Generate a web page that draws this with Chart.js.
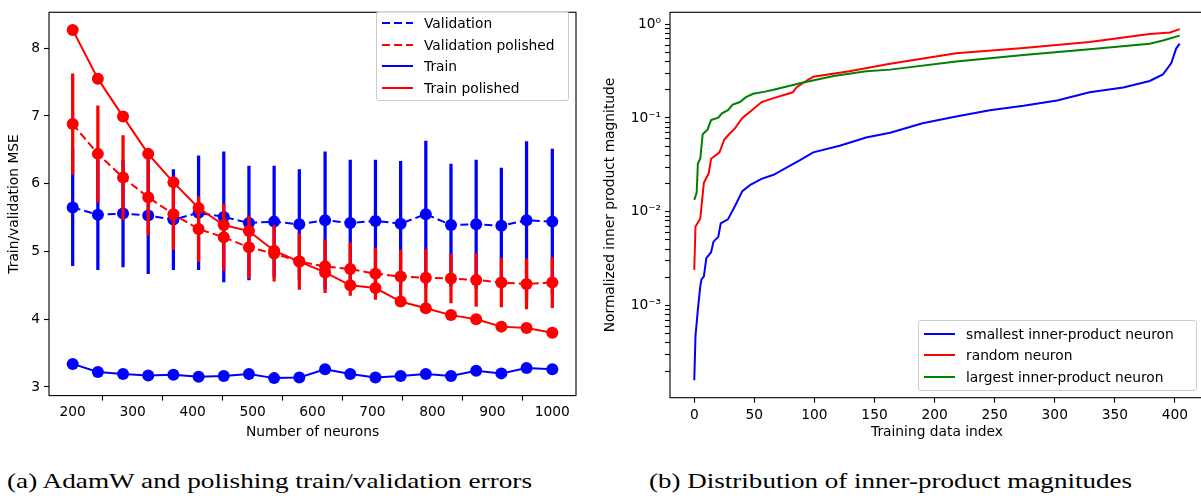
<!DOCTYPE html>
<html><head><meta charset="utf-8">
<script src="https://cdn.jsdelivr.net/npm/chart.js@4.4.0/dist/chart.umd.min.js"></script>
<style>
body{margin:0;width:1201px;height:499px;overflow:hidden;background:#fff;position:relative;font-family:'DejaVu Sans';}
canvas{position:absolute;top:0;}
.legend{position:absolute;background:rgba(255,255,255,0.85);border:1px solid #cccccc;border-radius:3px;box-sizing:border-box;font-size:13.8px;color:#000;z-index:5;}
.legend .txt{position:absolute;white-space:nowrap;line-height:16px;}
.legend svg{position:absolute;overflow:visible;}
.cap{position:absolute;font-family:'Liberation Serif',serif;font-size:22px;line-height:1;white-space:nowrap;color:#000;transform-origin:0 0;display:inline-block;}
</style></head>
<body>
<canvas id="c1" width="595" height="441" style="left:0"></canvas>
<canvas id="c2" width="612" height="441" style="left:595px"></canvas>
<div id="leg1" class="legend" style="left:376px;top:11px;width:193px;height:90px"></div>
<div id="leg2" class="legend" style="left:918px;top:320px;width:279px;height:71px"></div>
<span id="capA" class="cap" style="left:7px;top:470px">(a) AdamW and polishing train/validation errors</span>
<span id="capB" class="cap" style="left:649px;top:470px">(b) Distribution of inner-product magnitudes</span>
<script>
// ---------- Data: left panel ----------
const neurons = [200,242,284,326,368,410,452,494,536,578,621,663,705,747,789,831,873,915,957,1000];
const valMSE = [5.65,5.54,5.56,5.53,5.47,5.57,5.51,5.42,5.44,5.40,5.46,5.42,5.45,5.41,5.55,5.39,5.40,5.38,5.46,5.44];
const valErr = [0.86,0.81,0.79,0.86,0.74,0.84,0.96,0.84,0.82,0.81,1.01,0.93,0.90,0.92,1.08,0.90,0.95,0.85,1.16,1.07];
const valPolMSE = [6.88,6.44,6.09,5.80,5.55,5.33,5.21,5.06,4.97,4.85,4.78,4.74,4.67,4.63,4.61,4.60,4.58,4.54,4.52,4.54];
const valPolErr = [0.74,0.71,0.62,0.56,0.52,0.48,0.49,0.46,0.41,0.41,0.39,0.39,0.38,0.39,0.42,0.36,0.39,0.36,0.37,0.37];
const trainMSE = [3.34,3.22,3.19,3.17,3.18,3.15,3.16,3.19,3.13,3.14,3.26,3.19,3.14,3.16,3.19,3.16,3.24,3.20,3.28,3.26];
const trainPolMSE = [8.27,7.55,6.99,6.44,6.02,5.64,5.39,5.30,5.01,4.85,4.69,4.50,4.46,4.26,4.16,4.06,4.00,3.89,3.87,3.80];
const leftXTicks = [200,300,400,500,600,700,800,900,1000];
const leftYTicks = [3,4,5,6,7,8];

// ---------- Data: right panel ----------
const smallestIdx = [0,1,3,5,6,8,10,14,16,20,22,28,34,40,47,56,66,88,99,121,143,163,190,218,246,274,302,329,357,379,390,397,401,404];
const smallestVal = [1.6e-4,4.7e-4,9.1e-4,1.6e-3,1.9e-3,2.05e-3,3.2e-3,3.7e-3,4.8e-3,5.4e-3,7.5e-3,8.3e-3,1.16e-2,1.66e-2,1.95e-2,2.24e-2,2.48e-2,3.55e-2,4.3e-2,5.06e-2,6.2e-2,6.96e-2,8.8e-2,0.104,0.121,0.135,0.154,0.188,0.212,0.248,0.291,0.385,0.55,0.62];
const randomIdx = [0,1,5,8,12,14,21,25,28,34,40,48,56,66,82,85,93,99,129,163,184,218,274,329,379,396,404];
const randomVal = [2.4e-3,6.9e-3,8.5e-3,2.04e-2,2.57e-2,3.68e-2,4.3e-2,5.9e-2,6.5e-2,7.8e-2,0.1,0.121,0.148,0.163,0.188,0.212,0.248,0.275,0.315,0.379,0.417,0.489,0.559,0.646,0.787,0.818,0.887];
const largestIdx = [0,2,3,5,7,11,14,20,23,28,32,38,43,49,59,66,88,116,143,163,218,274,329,379,390,404];
const largestVal = [1.34e-2,1.6e-2,3.27e-2,3.7e-2,6.7e-2,7.5e-2,9.5e-2,0.101,0.112,0.121,0.139,0.148,0.167,0.181,0.191,0.2,0.235,0.28,0.315,0.328,0.40,0.469,0.542,0.62,0.671,0.756];
const rightXTicks = [0,50,100,150,200,250,300,350,400];
const rightYDecades = [-4,-3,-2,-1,0];

// ---------- helpers ----------
const FONT = {family:"'DejaVu Sans'", size:13.8};
const BLUE = '#0000ff', RED = '#ff0000', GREEN = '#008000';
const pts = (xs, ys) => xs.map((x,i)=>({x, y:ys[i]}));
const bars = (xs, ys, es) => xs.map((x,i)=>({x, y:[ys[i]-es[i], ys[i]+es[i]]}));
const framePlugin = {
  id:'frame',
  afterDatasetsDraw(chart){
    const {ctx, chartArea:a} = chart;
    ctx.save(); ctx.strokeStyle='#000'; ctx.lineWidth=1.1;
    ctx.strokeRect(a.left, a.top, a.right-a.left, a.bottom-a.top);
    ctx.restore();
  }
};
function axisCommon(){
  return {
    grid:{display:true, drawOnChartArea:false, drawTicks:true, tickLength:5, tickColor:'#000', tickWidth:1.1},
    border:{display:false},
    ticks:{color:'#000', font:FONT, padding:4, autoSkip:false, maxRotation:0, callback:(v)=>String(v)}
  };
}

// ---------- left chart ----------
const lx = axisCommon();
Object.assign(lx, {type:'linear', position:'bottom', min:160.5, max:1039.5, offset:false,
  afterBuildTicks(s){ s.ticks = leftXTicks.map(v=>({value:v})); },
  afterFit(s){ s.height = 441-395.6; },
  title:{display:true, text:'Number of neurons', color:'#000', font:FONT, padding:{top:0,bottom:0}}});
const ly = axisCommon();
Object.assign(ly, {type:'linear', position:'left', min:2.872, max:8.53,
  afterBuildTicks(s){ s.ticks = leftYTicks.map(v=>({value:v})); },
  afterFit(s){ s.width = 49; },
  title:{display:true, text:'Train/validation MSE', color:'#000', font:FONT, padding:{top:6.2,bottom:0}}});

const leftChart = new Chart(document.getElementById('c1'), {
  type:'line',
  data:{datasets:[
    {type:'bar', label:'Validation err', data:bars(neurons,valMSE,valErr), backgroundColor:BLUE, barThickness:2.6, grouped:false, order:6},
    {label:'Validation', data:pts(neurons,valMSE), borderColor:BLUE, backgroundColor:BLUE, borderWidth:2, borderDash:[8,4], pointRadius:6, pointHoverRadius:6, pointBorderWidth:0, pointBackgroundColor:BLUE, tension:0, order:5},
    {type:'bar', label:'Validation polished err', data:bars(neurons,valPolMSE,valPolErr), backgroundColor:RED, barThickness:2.6, grouped:false, order:4},
    {label:'Validation polished', data:pts(neurons,valPolMSE), borderColor:RED, backgroundColor:RED, borderWidth:2, borderDash:[8,4], pointRadius:6, pointHoverRadius:6, pointBorderWidth:0, pointBackgroundColor:RED, tension:0, order:3},
    {label:'Train', data:pts(neurons,trainMSE), borderColor:BLUE, backgroundColor:BLUE, borderWidth:2, pointRadius:6, pointHoverRadius:6, pointBorderWidth:0, pointBackgroundColor:BLUE, tension:0, order:2},
    {label:'Train polished', data:pts(neurons,trainPolMSE), borderColor:RED, backgroundColor:RED, borderWidth:2, pointRadius:6, pointHoverRadius:6, pointBorderWidth:0, pointBackgroundColor:RED, tension:0, order:1}
  ]},
  options:{
    responsive:false, animation:false, devicePixelRatio:1,
    layout:{padding:{left:0, top:3, right:19, bottom:0}},
    plugins:{legend:{display:false}, tooltip:{enabled:false}},
    scales:{x:lx, y:ly}
  },
  plugins:[framePlugin]
});

// ---------- right chart ----------
const supMap = {'-':'\u207B','0':'\u2070','1':'\u00B9','2':'\u00B2','3':'\u00B3','4':'\u2074'};
const rx = axisCommon();
Object.assign(rx, {type:'linear', position:'bottom', min:-20.2, max:424.2, offset:false,
  afterBuildTicks(s){ s.ticks = rightXTicks.map(v=>({value:v})); },
  afterFit(s){ s.height = 441-397.7; },
  title:{display:true, text:'Training data index', color:'#000', font:FONT, padding:{top:0,bottom:0}}});
const ry = axisCommon();
Object.assign(ry, {type:'logarithmic', position:'left', min:1.04e-4, max:1.341,
  afterBuildTicks(s){
    const t=[];
    rightYDecades.forEach(d=>{ for(let k=1;k<10;k++){ const v=k*Math.pow(10,d); if(v>=s.min && v<=s.max) t.push({value:v, major:k===1}); } });
    s.ticks = t;
  },
  afterFit(s){ s.width = 75; },
  title:{display:true, text:'Normalized inner product magnitude', color:'#000', font:FONT, padding:{top:6.7,bottom:0}}});
ry.ticks = Object.assign({}, ry.ticks, {
  callback(value){
    const e = Math.round(Math.log10(value));
    if (Math.abs(Math.log10(value)-e) < 1e-9) {
      return '10' + String(e).split('').map(c=>supMap[c]).join('');
    }
    return '';
  }
});

const rightChart = new Chart(document.getElementById('c2'), {
  type:'line',
  data:{datasets:[
    {label:'smallest inner-product neuron', data:pts(smallestIdx,smallestVal), borderColor:BLUE, backgroundColor:BLUE, borderWidth:2, pointRadius:0, tension:0, order:3},
    {label:'random neuron', data:pts(randomIdx,randomVal), borderColor:RED, backgroundColor:RED, borderWidth:2, pointRadius:0, tension:0, order:2},
    {label:'largest inner-product neuron', data:pts(largestIdx,largestVal), borderColor:GREEN, backgroundColor:GREEN, borderWidth:2, pointRadius:0, tension:0, order:1}
  ]},
  options:{
    responsive:false, animation:false, devicePixelRatio:1,
    layout:{padding:{left:0, top:1, right:3, bottom:0}},
    plugins:{legend:{display:false}, tooltip:{enabled:false}},
    scales:{x:rx, y:ry}
  },
  plugins:[framePlugin]
});

// ---------- HTML legends built from datasets ----------
function buildLegend(el, chart, rowCenters){
  const items = chart.data.datasets.filter(d=>d.type!=='bar');
  items.forEach((d,i)=>{
    const c = rowCenters[i];
    const svg = document.createElementNS('http://www.w3.org/2000/svg','svg');
    svg.setAttribute('width','32'); svg.setAttribute('height','4');
    svg.style.left='5px'; svg.style.top=(c-2)+'px';
    const ln = document.createElementNS('http://www.w3.org/2000/svg','line');
    ln.setAttribute('x1','0'); ln.setAttribute('y1','2'); ln.setAttribute('x2','31'); ln.setAttribute('y2','2');
    ln.setAttribute('stroke', d.borderColor); ln.setAttribute('stroke-width','2');
    if (d.borderDash) ln.setAttribute('stroke-dasharray', d.borderDash.join(' '));
    svg.appendChild(ln); el.appendChild(svg);
    const t = document.createElement('span'); t.className='txt';
    t.textContent = d.label; t.style.left='47px'; t.style.top=(c-8)+'px';
    el.appendChild(t);
  });
}
buildLegend(document.getElementById('leg1'), leftChart, [11.3, 32.7, 54.3, 76]);
buildLegend(document.getElementById('leg2'), rightChart, [12.7, 34.3, 56.3]);

// ---------- captions: fit widths ----------
function fit(id, w){ const el=document.getElementById(id); const r=el.getBoundingClientRect().width; el.style.transform='scaleX('+(w/r)+')'; }
fit('capA', 525);
fit('capB', 483);
</script>
</body></html>
